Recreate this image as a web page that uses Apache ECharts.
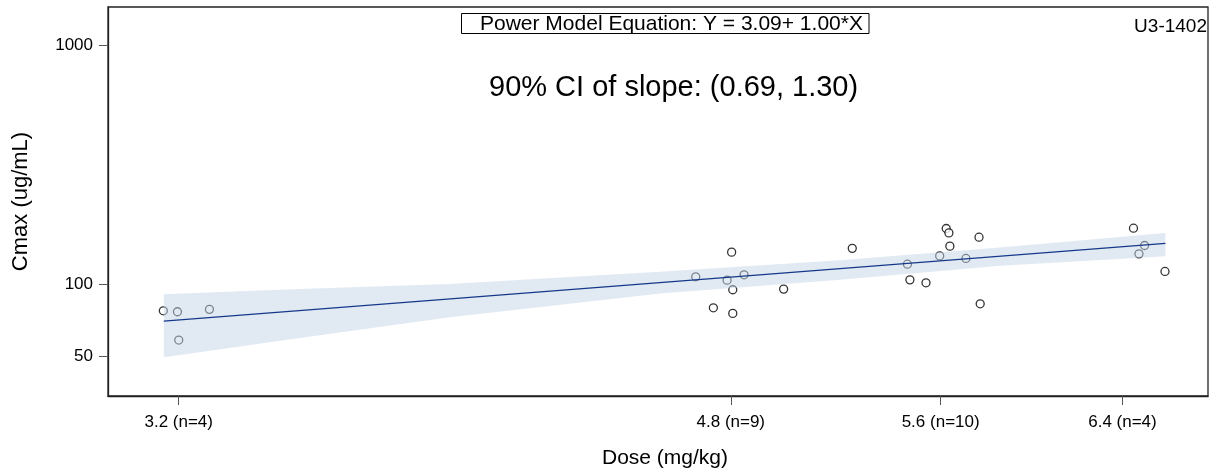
<!DOCTYPE html>
<html>
<head>
<meta charset="utf-8">
<script src="https://cdn.jsdelivr.net/npm/echarts@6/dist/echarts.min.js"></script>
<style>
  html, body { margin: 0; padding: 0; background: #fff; }
  #main { width: 1219px; height: 474px; }
</style>
</head>
<body>
<div id="main"></div>
<script>
//Observed subjects: dose (mg/kg) and Cmax (ug/mL)
let doseValues = [3.164, 3.197, 3.273, 3.200,
    4.678, 4.739, 4.787, 4.803, 4.807, 4.807, 4.847, 4.990, 5.248,
    5.465, 5.475, 5.540, 5.596, 5.623, 5.634, 5.638, 5.705, 5.760, 5.765,
    6.452, 6.478, 6.505, 6.603];
let cmaxValues = [77.3, 76.6, 78.4, 58.3,
    107.3, 79.6, 103.9, 136.1, 94.7, 75.4, 109.4, 95.3, 141.2,
    121.2, 104.2, 101.3, 131.3, 171.0, 163.9, 144.2, 128.1, 157.2, 82.7,
    171.5, 133.9, 145.1, 113.0];

//Fitted power model line (end points)
let fitDose = [3.165, 6.605];
let fitCmax = [70.0, 148.0];

//90% confidence band of the fit
let bandDose = [3.165, 3.497, 3.905, 4.557, 5.201, 5.850, 6.605];
let bandUpper = [90.8, 95.3, 100.0, 112.6, 126.0, 142.3, 163.9];
let bandLower = [49.4, 59.5, 72.6, 91.4, 104.4, 119.3, 130.9];

//Axis ticks
let xTicks = [3.2, 4.8, 5.6, 6.4];
let xTickLabels = ['3.2 (n=4)', '4.8 (n=9)', '5.6 (n=10)', '6.4 (n=4)'];
let yTicks = [50, 100, 1000];

const FONT = '"Liberation Sans", Arial, sans-serif';

function nearestIndex(list, v) {
    let best = 0;
    for (let i = 1; i < list.length; i++) {
        if (Math.abs(list[i] - v) < Math.abs(list[best] - v)) best = i;
    }
    return best;
}

function drawChart() {
    let myChart = echarts.init(document.getElementById('main'), null, { renderer: 'canvas' });

    let scatterData = doseValues.map((d, i) => [d, cmaxValues[i]]);
    let fitData = fitDose.map((d, i) => [d, fitCmax[i]]);
    let bandData = bandDose.map((d, i) => [d, bandLower[i], bandUpper[i]]);

    let option = {
        animation: false,
        textStyle: { fontFamily: FONT },
        grid: {
            left: 108, right: 11, top: 7, bottom: 77,
            show: true, borderColor: '#222', borderWidth: 1.3
        },
        xAxis: {
            type: 'log',
            logBase: 10,
            min: 3.038,
            max: 6.815,
            name: 'Dose (mg/kg)',
            nameLocation: 'middle',
            nameGap: 52,
            nameTextStyle: { fontSize: 21, color: '#000', fontFamily: FONT, padding: [0, 0, 0, 14] },
            axisLine: { show: true, lineStyle: { color: '#222', width: 1.3 } },
            axisTick: { show: true, length: 9, customValues: xTicks, lineStyle: { color: '#555' } },
            axisLabel: {
                customValues: xTicks,
                fontSize: 17, color: '#000', margin: 18, fontFamily: FONT,
                formatter: v => xTickLabels[nearestIndex(xTicks, v)]
            },
            splitLine: { show: false },
            minorTick: { show: false }
        },
        yAxis: {
            type: 'log',
            logBase: 10,
            min: 34.0,
            max: 1447,
            name: 'Cmax (ug/mL)',
            nameLocation: 'middle',
            nameGap: 76,
            nameTextStyle: { fontSize: 22, color: '#000', fontFamily: FONT },
            axisLine: { show: true, lineStyle: { color: '#222', width: 1.3 } },
            axisTick: { show: true, length: 9, customValues: yTicks, lineStyle: { color: '#555' } },
            axisLabel: {
                customValues: yTicks,
                fontSize: 17, color: '#000', margin: 15, fontFamily: FONT,
                formatter: v => String(yTicks[nearestIndex(yTicks, v)])
            },
            splitLine: { show: false }
        },
        graphic: [
            {
                type: 'rect', z: 100,
                shape: { x: 461.5, y: 13.5, width: 407.5, height: 20 },
                style: { fill: '#fff', stroke: '#000', lineWidth: 1 }
            },
            {
                type: 'text', z: 101, x: 480, y: 24,
                style: { text: 'Power Model Equation: Y = 3.09+ 1.00*X', font: '21px ' + FONT, fill: '#000', verticalAlign: 'middle', textAlign: 'left' }
            },
            {
                type: 'text', z: 101, x: 489, y: 88,
                style: { text: '90% CI of slope: (0.69, 1.30)', font: '29px ' + FONT, fill: '#000', verticalAlign: 'middle', textAlign: 'left' }
            },
            {
                type: 'text', z: 101, x: 1207, y: 27,
                style: { text: 'U3-1402', font: '19px ' + FONT, fill: '#000', verticalAlign: 'middle', textAlign: 'right' }
            }
        ],
        series: [
            {
                name: 'Observed',
                type: 'scatter',
                z: 2,
                symbol: 'circle',
                symbolSize: 8,
                itemStyle: { color: '#fff', borderColor: '#000', borderWidth: 1.3 },
                data: scatterData
            },
            {
                name: 'CI band',
                type: 'custom',
                z: 3,
                encode: { x: 0, y: [1, 2] },
                renderItem: function (params, api) {
                    if (params.dataIndex !== 0) return null;
                    let pts = [];
                    for (let i = 0; i < bandData.length; i++) {
                        pts.push(api.coord([bandData[i][0], bandData[i][2]]));
                    }
                    for (let i = bandData.length - 1; i >= 0; i--) {
                        pts.push(api.coord([bandData[i][0], bandData[i][1]]));
                    }
                    return {
                        type: 'polygon',
                        shape: { points: pts },
                        style: { fill: 'rgba(195,211,231,0.5)' }
                    };
                },
                data: bandData
            },
            {
                name: 'Fit',
                type: 'line',
                z: 4,
                symbol: 'none',
                lineStyle: { color: '#15398a', width: 1.3 },
                data: fitData
            }
        ]
    };
    myChart.setOption(option);
}

drawChart();
</script>
</body>
</html>
